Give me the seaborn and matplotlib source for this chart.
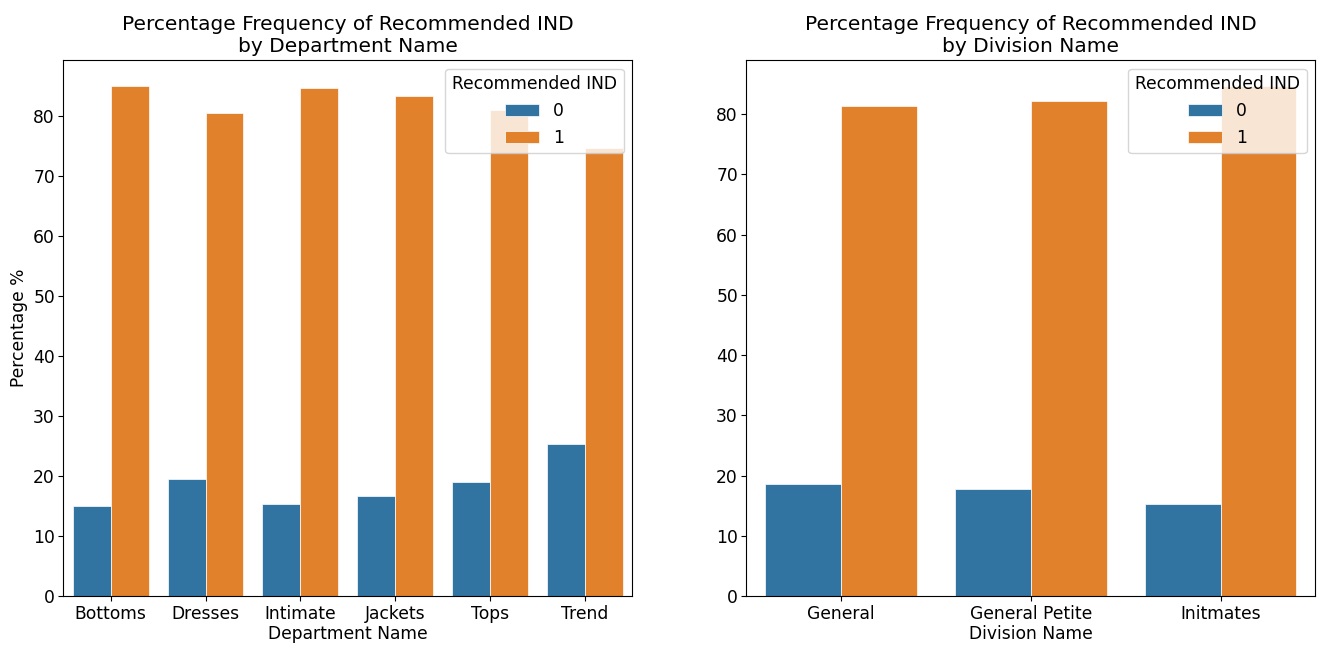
import pandas as pd
import seaborn as sns
import matplotlib.pyplot as plt

departments = ["Bottoms", "Dresses", "Intimate", "Jackets", "Tops", "Trend"]
dept_not_rec = [15.0, 19.5, 15.4, 16.7, 19.0, 25.4]
dept_rec = [85.0, 80.5, 84.6, 83.3, 81.0, 74.6]

divisions = ["General", "General Petite", "Initmates"]
div_not_rec = [18.7, 17.8, 15.3]
div_rec = [81.3, 82.2, 84.7]


def long_frame(names, not_rec, rec, col):
    """build a tidy dataframe with one row per bar"""
    df = pd.DataFrame({
        col: names * 2,
        "Recommended IND": ["0"] * len(names) + ["1"] * len(names),
        "Percentage": not_rec + rec,
    })
    return df


def draw(ax, df, col, title, ylabel):
    sns.barplot(data=df, x=col, y="Percentage", hue="Recommended IND",
                hue_order=["0", "1"], ax=ax, edgecolor="white", linewidth=0.5,
                errorbar=None)
    ax.set_title(title, fontsize=14.5)
    ax.set_xlabel(col, fontsize=12.3, labelpad=2)
    ax.set_ylabel(ylabel, fontsize=12.3)
    ax.tick_params(labelsize=12.3, pad=2.5)
    ax.legend(title="Recommended IND", loc="upper right", fontsize=12.3,
              title_fontsize=12.3, framealpha=0.8)


def main():
    fig, axes = plt.subplots(1, 2, figsize=(13.18, 6.46), dpi=100)
    plt.subplots_adjust(left=0.048, right=0.998, top=0.907, bottom=0.077,
                        wspace=0.2)

    draw(axes[0], long_frame(departments, dept_not_rec, dept_rec, "Department Name"),
         "Department Name",
         "Percentage Frequency of Recommended IND\nby Department Name", "Percentage %")
    draw(axes[1], long_frame(divisions, div_not_rec, div_rec, "Division Name"),
         "Division Name",
         "Percentage Frequency of Recommended IND\nby Division Name", "")

    plt.savefig("out.png", facecolor="white", dpi=100)


if __name__ == "__main__":
    main()
